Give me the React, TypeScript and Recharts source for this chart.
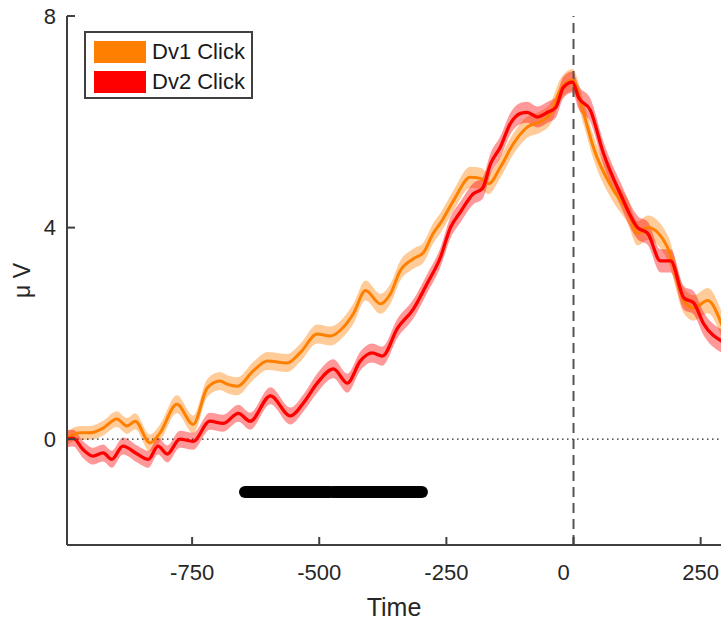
import React from 'react';
import {
  ComposedChart,
  Area,
  Line,
  XAxis,
  YAxis,
  ReferenceLine,
  Legend,
} from 'recharts';

// Dv1 Click (orange)
const dv1Time = [
  -1000, -970, -951, -925, -898, -878, -862, -833, -813, -780, -748, -720, -695, -681, -661, -630, -602,
  -563, -537, -504, -478, -453, -433, -409, -380, -360, -341, -315, -295, -276, -262, -236, -203, -183,
  -167, -144, -118, -91, -65, -45, -26, -2, 20, 39, 79, 106, 126, 146, 185, 217, 236, 264, 292,
];
const dv1Mean = [
  0.0, 0.12, 0.12, 0.21, 0.38, 0.25, 0.34, -0.07, 0.12, 0.66, 0.28, 0.97, 1.1, 1.04, 1.0, 1.29, 1.48,
  1.44, 1.64, 1.99, 1.95, 2.11, 2.37, 2.81, 2.56, 2.75, 3.18, 3.41, 3.53, 3.89, 4.08, 4.51, 4.95, 4.93,
  4.83, 5.14, 5.59, 5.9, 6.0, 6.16, 6.6, 6.79, 6.16, 5.52, 4.7, 4.32, 3.89, 4.0, 3.62, 2.62, 2.48, 2.62, 2.15,
];
const dv1Sem = [
  0.13, 0.13, 0.13, 0.14, 0.15, 0.15, 0.15, 0.16, 0.16, 0.17, 0.17, 0.17, 0.17, 0.17, 0.17, 0.17, 0.17,
  0.17, 0.17, 0.18, 0.18, 0.18, 0.19, 0.19, 0.19, 0.19, 0.19, 0.19, 0.19, 0.19, 0.19, 0.19, 0.2, 0.2,
  0.2, 0.2, 0.2, 0.2, 0.2, 0.2, 0.21, 0.21, 0.22, 0.22, 0.23, 0.23, 0.23, 0.23, 0.24, 0.24, 0.24, 0.24, 0.24,
];

// Dv2 Click (red)
const dv2Time = [
  -1000, -984, -965, -945, -925, -908, -886, -858, -836, -817, -799, -774, -748, -715, -689, -659, -636,
  -596, -557, -530, -504, -472, -445, -419, -396, -376, -346, -315, -288, -262, -242, -222, -197, -179,
  -163, -144, -124, -104, -91, -71, -51, -35, -20, -2, 10, 33, 59, 92, 126, 146, 171, 191, 217, 236, 256, 292,
];
const dv2Mean = [
  0.0, 0.02, -0.19, -0.32, -0.26, -0.38, -0.13, -0.28, -0.38, -0.13, -0.28, 0.0, -0.04, 0.34, 0.3, 0.49,
  0.34, 0.82, 0.44, 0.7, 1.06, 1.33, 1.06, 1.48, 1.63, 1.57, 2.1, 2.46, 2.94, 3.43, 4.0, 4.3, 4.64, 4.74,
  5.21, 5.52, 5.97, 6.16, 6.18, 6.09, 6.18, 6.27, 6.65, 6.75, 6.46, 6.22, 5.4, 4.64, 4.0, 3.89, 3.37, 3.37,
  2.67, 2.58, 2.18, 1.85,
];
const dv2Sem = [
  0.16, 0.16, 0.16, 0.16, 0.16, 0.16, 0.16, 0.16, 0.16, 0.16, 0.16, 0.16, 0.16, 0.16, 0.16, 0.16, 0.16,
  0.16, 0.16, 0.16, 0.18, 0.18, 0.18, 0.18, 0.18, 0.18, 0.18, 0.18, 0.18, 0.18, 0.2, 0.2, 0.2, 0.2,
  0.2, 0.2, 0.2, 0.2, 0.2, 0.2, 0.2, 0.2, 0.2, 0.2, 0.22, 0.22, 0.22, 0.22, 0.22, 0.22, 0.22, 0.22,
  0.22, 0.22, 0.22, 0.22,
];

// significance bar (two adjacent segments)
const sigSeg1 = [-646, -479];
const sigSeg2 = [-473, -298];
const sigLevel = -1;

const xTicks = [-750, -500, -250, 0, 250];
const yTicks = [0, 4, 8];
const legendNames = ['Dv1 Click', 'Dv2 Click'];

const ORANGE = '#ff8000';
const RED = '#ff0000';
const AXIS = '#404040';
const FONT = '"Liberation Sans", Arial, Helvetica, sans-serif';

function buildRows(time: number[], mean: number[], sem: number[]) {
  return time.map((t, i) => ({
    t,
    mean: mean[i],
    band: [mean[i] - sem[i], mean[i] + sem[i]],
  }));
}

function LegendBox() {
  const colors = [ORANGE, RED];
  return (
    <div
      style={{
        border: `2px solid ${AXIS}`,
        background: '#fff',
        padding: '4px 8px 3px 8px',
        width: 169,
        height: 68,
        boxSizing: 'border-box',
        fontFamily: FONT,
        fontSize: 22,
        color: '#1a1a1a',
        whiteSpace: 'nowrap',
      }}
    >
      {legendNames.map((name, i) => (
        <div key={name} style={{ display: 'flex', alignItems: 'center', height: 30 }}>
          <span
            style={{
              display: 'inline-block',
              width: 52,
              height: 22,
              background: colors[i],
              marginRight: 6,
              flex: 'none',
            }}
          />
          <span>{name}</span>
        </div>
      ))}
    </div>
  );
}

function XTick(props: any) {
  const { x, y, payload } = props;
  // the "0" label sits a little left of its tick in the reference
  const shift = payload.value === 0 ? -10 : 0;
  return (
    <text
      x={x + shift}
      y={y}
      dy="0.71em"
      textAnchor="middle"
      fontFamily={FONT}
      fontSize={22}
      fill="#262626"
    >
      {payload.value}
    </text>
  );
}

export default function App() {
  const dv1 = buildRows(dv1Time, dv1Mean, dv1Sem);
  const dv2 = buildRows(dv2Time, dv2Mean, dv2Sem);
  const sig1 = sigSeg1.map((t) => ({ t, v: sigLevel }));
  const sig2 = sigSeg2.map((t) => ({ t, v: sigLevel }));

  return (
    <div style={{ position: 'absolute', left: 0, top: 0, width: 721, height: 621, background: '#fff' }}>
      <ComposedChart width={721} height={621} margin={{ top: 16, right: 0, bottom: 0, left: 0 }}>
        <XAxis
          dataKey="t"
          type="number"
          domain={[-996, 290]}
          allowDataOverflow
          ticks={xTicks}
          height={76}
          tickSize={-8}
          tickMargin={27}
          tick={<XTick />}
          axisLine={{ stroke: AXIS, strokeWidth: 2 }}
          tickLine={{ stroke: AXIS, strokeWidth: 2 }}
          label={{
            value: 'Time',
            position: 'insideBottom',
            offset: 5,
            style: { fontFamily: FONT, fontSize: 25, fill: '#262626' },
          }}
        />
        <YAxis
          type="number"
          domain={[-2, 8]}
          ticks={yTicks}
          width={67}
          tickSize={-8}
          tickMargin={19}
          tick={{ fontFamily: FONT, fontSize: 22, fill: '#262626' }}
          axisLine={{ stroke: AXIS, strokeWidth: 2 }}
          tickLine={{ stroke: AXIS, strokeWidth: 2 }}
          label={{
            value: 'μ V',
            angle: -90,
            position: 'insideLeft',
            offset: 22,
            style: { fontFamily: FONT, fontSize: 23, fill: '#262626', textAnchor: 'middle' },
          }}
        />
        <ReferenceLine y={0} stroke="#222" strokeWidth={1.3} strokeDasharray="1.5 3.5" />
        <ReferenceLine x={0} stroke="#555" strokeWidth={2} strokeDasharray="10 6" />

        <Area
          data={dv1}
          dataKey="band"
          type="monotone"
          stroke="none"
          fill={ORANGE}
          fillOpacity={0.4}
          isAnimationActive={false}
          legendType="none"
        />
        <Area
          data={dv2}
          dataKey="band"
          type="monotone"
          stroke="none"
          fill={RED}
          fillOpacity={0.4}
          isAnimationActive={false}
          legendType="none"
        />
        <Line
          data={dv1}
          dataKey="mean"
          type="monotone"
          stroke={ORANGE}
          strokeWidth={3}
          dot={false}
          isAnimationActive={false}
        />
        <Line
          data={dv2}
          dataKey="mean"
          type="monotone"
          stroke={RED}
          strokeWidth={3.3}
          dot={false}
          isAnimationActive={false}
        />
        <Line
          data={sig1}
          dataKey="v"
          stroke="#000"
          strokeWidth={12}
          strokeLinecap="round"
          dot={false}
          isAnimationActive={false}
          legendType="none"
        />
        <Line
          data={sig2}
          dataKey="v"
          stroke="#000"
          strokeWidth={12}
          strokeLinecap="round"
          dot={false}
          isAnimationActive={false}
          legendType="none"
        />
        <Legend
          layout="vertical"
          align="center"
          verticalAlign="middle"
          content={() => <LegendBox />}
          wrapperStyle={{ position: 'absolute', left: 84, top: 31, width: 169 }}
        />
      </ComposedChart>
    </div>
  );
}
